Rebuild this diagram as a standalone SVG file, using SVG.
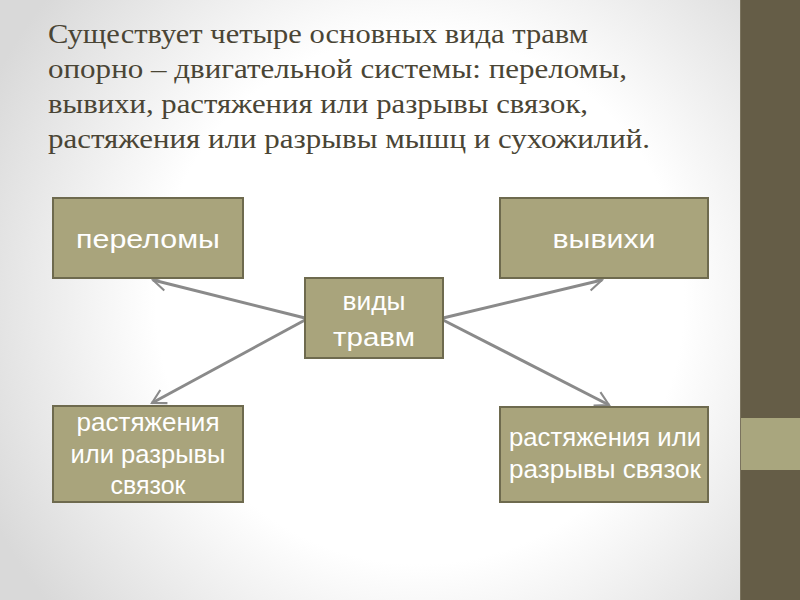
<svg xmlns="http://www.w3.org/2000/svg" width="800" height="600" viewBox="0 0 800 600">
<defs>
<radialGradient id="bg" cx="420" cy="300" r="480" gradientUnits="userSpaceOnUse">
<stop offset="0.55" stop-color="#ffffff"/>
<stop offset="1" stop-color="#d9d9d9"/>
</radialGradient>
<marker id="arr" viewBox="0 0 12 12" refX="10" refY="6" markerWidth="6" markerHeight="6" orient="auto" markerUnits="strokeWidth">
<polyline points="1,1 10,6 1,11" fill="none" stroke="#8a8a8a" stroke-width="1.4"/>
</marker>
<style>
.box{fill:#a9a47c;stroke:#6e6a4e;stroke-width:2}
.lbl{font-family:"Liberation Sans",Arial,sans-serif;font-size:25px;fill:#ffffff;text-anchor:middle}
.ttl{font-family:"Liberation Serif","Times New Roman",serif;font-size:28px;fill:#4a4535}
.con{stroke:#8a8a8a;stroke-width:3;fill:none;marker-end:url(#arr)}
</style>
</defs>
<rect x="0" y="0" width="800" height="600" fill="url(#bg)"/>
<rect x="740" y="0" width="60" height="600" fill="#655d47"/>
<rect x="740" y="418" width="60" height="52" fill="#a9a67e"/>
<line x1="740.5" y1="0" x2="740.5" y2="600" stroke="#7a735e" stroke-width="1"/>
<g id="title" class="ttl">
<text x="48" y="43" textLength="540" lengthAdjust="spacingAndGlyphs">Существует четыре основных вида травм</text>
<text x="48" y="78" textLength="579" lengthAdjust="spacingAndGlyphs">опорно – двигательной системы: переломы,</text>
<text x="48" y="113" textLength="540" lengthAdjust="spacingAndGlyphs">вывихи, растяжения или разрывы связок,</text>
<text x="48" y="148" textLength="602" lengthAdjust="spacingAndGlyphs">растяжения или разрывы мышц и сухожилий.</text>
</g>
<g id="connectors">
<line class="con" x1="305" y1="318" x2="153" y2="280"/>
<line class="con" x1="305" y1="320" x2="152" y2="403"/>
<line class="con" x1="443" y1="318" x2="602" y2="280"/>
<line class="con" x1="443" y1="320" x2="609" y2="405"/>
</g>
<g id="n-fractures">
<rect class="box" x="53" y="198" width="190" height="80"/>
<text class="lbl" x="148" y="248" textLength="144" lengthAdjust="spacingAndGlyphs">переломы</text>
</g>
<g id="n-dislocations">
<rect class="box" x="500" y="198" width="208" height="80"/>
<text class="lbl" x="604" y="248" textLength="103" lengthAdjust="spacingAndGlyphs">вывихи</text>
</g>
<g id="n-center">
<rect class="box" x="305" y="278" width="138" height="80"/>
<text class="lbl" x="374" y="310" textLength="63" lengthAdjust="spacingAndGlyphs">виды</text>
<text class="lbl" x="374" y="346" textLength="82" lengthAdjust="spacingAndGlyphs">травм</text>
</g>
<g id="n-sprains-left">
<rect class="box" x="53" y="406" width="190" height="96"/>
<text class="lbl" x="148" y="431" textLength="143" lengthAdjust="spacingAndGlyphs">растяжения</text>
<text class="lbl" x="148" y="463" textLength="155" lengthAdjust="spacingAndGlyphs">или разрывы</text>
<text class="lbl" x="148" y="494" textLength="75" lengthAdjust="spacingAndGlyphs">связок</text>
</g>
<g id="n-sprains-right">
<rect class="box" x="500" y="407" width="208" height="95"/>
<text class="lbl" x="605" y="446" textLength="192" lengthAdjust="spacingAndGlyphs">растяжения или</text>
<text class="lbl" x="605" y="478" textLength="192" lengthAdjust="spacingAndGlyphs">разрывы связок</text>
</g>
</svg>
